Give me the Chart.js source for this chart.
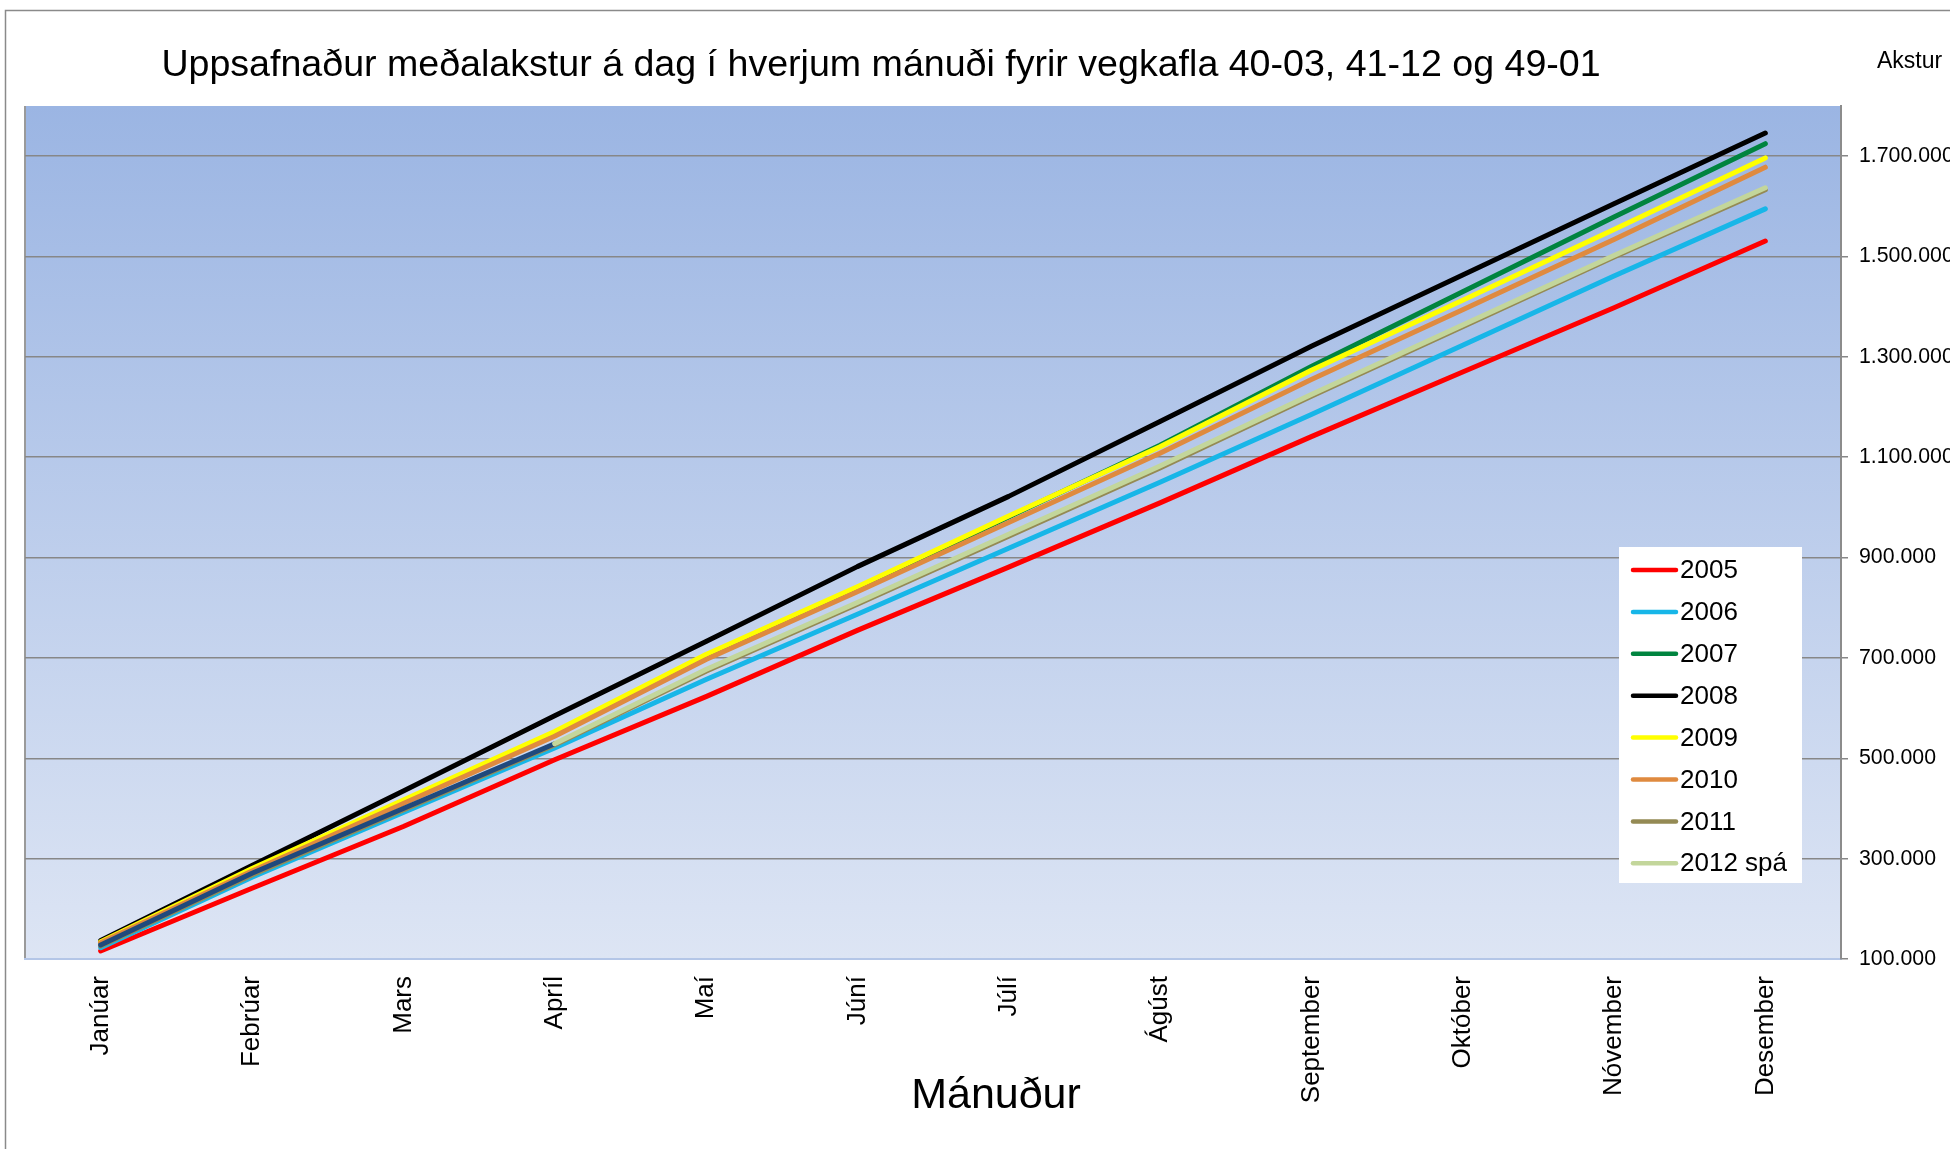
<!DOCTYPE html>
<html><head><meta charset="utf-8">
<script src="https://cdn.jsdelivr.net/npm/chart.js@4.4.1/dist/chart.umd.min.js"></script>
<style>html,body{margin:0;padding:0;background:#fff;overflow:hidden}#wrap{width:1950px;height:1149px;position:relative}canvas{display:block}</style>
</head><body><div id="wrap"><canvas id="c" width="1950" height="1149"></canvas></div>
<script>
const months = ['Janúar','Febrúar','Mars','Apríl','Maí','Júní','Júlí','Ágúst','September','Október','Nóvember','Desember'];
const s2005 = [116000,241000,364000,497000,623000,755000,881000,1009000,1141000,1270000,1398000,1531000];
const s2006 = [122500,263000,392000,520500,657000,787000,918500,1050000,1185000,1323000,1461000,1595000];
const s2007 = [133000,278000,413000,549000,702000,837000,981000,1124000,1281000,1430000,1579000,1725000];
const s2008 = [137000,286500,435000,585000,733000,882000,1022000,1171000,1321000,1463000,1605000,1746000];
const s2009 = [134500,280500,417000,553500,707000,842000,983000,1121000,1273500,1413000,1554000,1696500];
const s2010 = [132500,275500,410000,544000,697000,832000,970000,1108000,1255000,1394000,1534000,1678000];
const s2011 = [126000,267500,397000,526500,673500,807000,942500,1078500,1221500,1360000,1499000,1633000];
const s2012 = [128000,271000,400000,529000,null,null,null,null,null,null,null,null];
const s2012spa = [null,null,null,529000,677000,810500,946500,1082500,1225000,1363500,1502000,1637000];
const yTicks = [100000,300000,500000,700000,900000,1100000,1300000,1500000,1700000];

const FONT = '"Liberation Sans", Arial, sans-serif';
const fmt = v => String(v).replace(/\B(?=(\d{3})+(?!\d))/g, '.');

const series = [
  {label:'2005', data:s2005, color:'#FF0000'},
  {label:'2006', data:s2006, color:'#17B6E8'},
  {label:'2007', data:s2007, color:'#00843F'},
  {label:'2008', data:s2008, color:'#000000'},
  {label:'2009', data:s2009, color:'#FFFF00'},
  {label:'2010', data:s2010, color:'#DF8A3F'},
  {label:'2011', data:s2011, color:'#948A54'},
  {label:'2012', data:s2012, color:'#1F497D', hideLegend:true},
  {label:'2012 spá', data:s2012spa, color:'#C3D69B'}
];

const bgPlugin = {
  id:'bg',
  beforeDraw(chart){
    const {ctx, chartArea:a} = chart;
    ctx.save();
    ctx.fillStyle = '#fff';
    ctx.fillRect(0,0,chart.width,chart.height);
    ctx.strokeStyle = '#8a8a8a';
    ctx.lineWidth = 1.5;
    ctx.strokeRect(5.5,10.5,2000,1200);
    const g = ctx.createLinearGradient(0,a.top,0,a.bottom);
    g.addColorStop(0,'#9BB5E3');
    g.addColorStop(1,'#DDE5F4');
    ctx.fillStyle = g;
    ctx.fillRect(a.left,a.top,a.right-a.left,a.bottom-a.top);
    ctx.strokeStyle = '#9a9a9a';
    ctx.lineWidth = 2;
    ctx.beginPath(); ctx.moveTo(a.left,a.top); ctx.lineTo(a.left,a.bottom); ctx.stroke();
    ctx.restore();
  }
};

const textPlugin = {
  id:'texts',
  afterDraw(chart){
    const ctx = chart.ctx;
    ctx.save();
    ctx.fillStyle = '#000';
    ctx.textBaseline = 'middle';
    ctx.textAlign = 'center';
    ctx.font = '37.6px ' + FONT;
    ctx.fillText('Uppsafnaður meðalakstur á dag í hverjum mánuði fyrir vegkafla 40-03, 41-12 og 49-01', 881, 66);
    ctx.font = '43px ' + FONT;
    ctx.fillText('Mánuður', 996, 1096);
    ctx.textAlign = 'left';
    ctx.font = '23px ' + FONT;
    ctx.fillText('Akstur', 1877, 61.5);
    // legend
    ctx.fillStyle = '#fff';
    ctx.fillRect(1619,547,183,336);
    const items = chart.data.datasets.filter(d => !d.hideLegend);
    ctx.font = '26px ' + FONT;
    items.forEach((d,i) => {
      const y = 570 + i*41.9;
      ctx.strokeStyle = d.borderColor;
      ctx.lineWidth = 4.5;
      ctx.lineCap = 'round';
      ctx.beginPath(); ctx.moveTo(1633,y); ctx.lineTo(1676,y); ctx.stroke();
      ctx.fillStyle = '#000';
      ctx.fillText(d.label, 1680, y+1);
    });
    ctx.restore();
  }
};

new Chart(document.getElementById('c'), {
  type:'line',
  data:{
    labels:months,
    datasets:series.map((s,i) => ({
      label:s.label, data:s.data, borderColor:s.color, backgroundColor:s.color,
      hideLegend:!!s.hideLegend, order:series.length - i, spanGaps:false
    }))
  },
  options:{
    responsive:false, animation:false, devicePixelRatio:1,
    layout:{padding:{left:25, top:106, right:0, bottom:0}},
    plugins:{legend:{display:false}, title:{display:false}, tooltip:{enabled:false}},
    elements:{point:{radius:0, hoverRadius:0}, line:{tension:0, borderWidth:5, borderCapStyle:'round', borderJoinStyle:'round', fill:false}},
    scales:{
      x:{
        offset:true,
        grid:{display:false, drawTicks:false},
        border:{display:true, color:'#B4C6E7', width:2},
        ticks:{minRotation:90, maxRotation:90, autoSkip:false, padding:17, color:'#000', font:{family:FONT, size:26}},
        afterFit(s){ s.height = 190; }
      },
      y:{
        position:'right', min:100000, max:1800000,
        afterBuildTicks(s){ s.ticks = yTicks.map(v => ({value:v})); },
        grid:{color:'#878787', lineWidth:1.5, drawTicks:true, tickLength:7, tickColor:'#878787'},
        border:{display:true, color:'#8C8C8C', width:2},
        ticks:{padding:11, color:'#000', font:{family:FONT, size:21.3}, callback:v => fmt(v)},
        afterFit(s){ s.width = 109; }
      }
    }
  },
  plugins:[bgPlugin, textPlugin]
});
</script></body></html>
